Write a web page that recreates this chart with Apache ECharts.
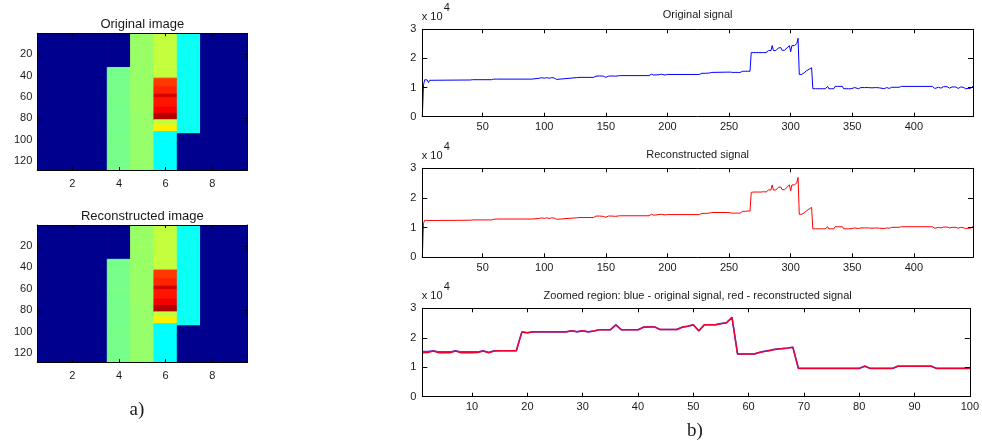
<!DOCTYPE html>
<html>
<head>
<meta charset="utf-8">
<script src="https://cdn.jsdelivr.net/npm/echarts@6/dist/echarts.min.js"></script>
<style>html,body{margin:0;padding:0;background:#fff;}#c{width:982px;height:446px;}</style>
</head>
<body>
<div id="c"></div>
<script>
// ---------------- DATA ----------------
// Image columns 1..9 as run-length segments [rowStart, rowEnd, normalised intensity (jet 0..1)]
const imageRows = 128;
const imageCols = 9;
const originalImage = [
  [[1,128,0]],
  [[1,128,0]],
  [[1,128,0]],
  [[1,32,0],[33,60,0.49],[61,62,0.5],[63,100,0.49],[101,102,0.498],[103,128,0.49]],
  [[1,20,0.525],[21,22,0.532],[23,70,0.525],[71,72,0.532],[73,128,0.522]],
  [[1,42,0.566],[43,50,0.82],[51,57,0.84],[58,60,0.92],[61,69,0.855],[70,75,0.88],[76,81,0.95],[82,86,0.57],[87,92,0.64],[93,128,0.375]],
  [[1,94,0.385],[95,128,0]],
  [[1,128,0]],
  [[1,128,0]]
];
const reconstructedImage = [
  [[1,128,0]],
  [[1,128,0]],
  [[1,128,0]],
  [[1,32,0],[33,60,0.49],[61,62,0.5],[63,100,0.49],[101,102,0.498],[103,128,0.49]],
  [[1,20,0.525],[21,22,0.532],[23,70,0.525],[71,72,0.532],[73,128,0.522]],
  [[1,42,0.566],[43,50,0.82],[51,57,0.84],[58,60,0.925],[61,69,0.855],[70,75,0.885],[76,81,0.95],[82,86,0.57],[87,92,0.64],[93,128,0.375]],
  [[1,94,0.385],[95,128,0]],
  [[1,128,0]],
  [[1,128,0]]
];
const imageXTicks = [2,4,6,8];
const imageYTicks = [20,40,60,80,100,120];

// Zoomed region (samples 1..100 == original samples 250..349)
const zoomOffset = 249;
const zoomOriginal = [
  15300,15300,15600,15200,15200,15200,15600,15200,15200,15200,
  15200,15600,15100,15600,15600,15600,15600,15600,22000,21700,
  22000,22000,22000,22000,22000,22000,22000,22400,22000,22400,
  22000,22300,22700,22700,22700,24400,22700,22700,22700,22700,
  23600,23700,23700,22800,22800,22800,22800,23600,23900,24400,
  22300,24400,24400,24400,24800,25100,26900,14500,14500,14500,
  14500,15100,15500,15800,16200,16300,16500,16800,9600,9600,
  9600,9600,9600,9600,9600,9600,9600,9600,9600,9600,
  10400,9600,9600,9600,9600,9600,10400,10400,10400,10400,
  10400,10400,10400,9600,9600,9600,9600,9600,9600,9600
];
const zoomReconstructed = [
  14900,15000,15500,14900,14900,14900,15500,14900,14900,14900,
  15000,15500,14900,15500,15600,15600,15600,15600,21900,21700,
  22000,22000,22000,22000,22000,22000,22000,22400,22100,22400,
  22000,22300,22700,22700,22700,24400,22700,22700,22700,22700,
  23600,23700,23700,22800,22800,22800,22800,23600,23900,24400,
  22400,24400,24400,24400,24800,25100,26900,14500,14500,14500,
  14500,15000,15400,15700,16100,16300,16500,16800,9600,9600,
  9600,9600,9600,9600,9600,9600,9600,9600,9600,9600,
  10300,9600,9600,9600,9600,9600,10300,10300,10300,10300,
  10300,10300,10300,9600,9600,9600,9600,9600,9600,9600
];
// Full signals outside the zoomed region: [sample, value]
const originalHead = [
  [1,0],[2,11000],[3,12700],[4,12700],[5,12600],[6,11700],[7,12500],[8,12600],[40,12600],[41,13000],[42,12700],
  [57,12700],[58,13100],[59,12900],[60,13100],[61,12900],[90,12900],[91,13300],[96,13200],[98,13400],[100,13200],
  [102,13400],[104,13200],[106,13400],[108,13300],[110,12800],[111,13400],[126,13400],[127,12800],[129,13500],
  [140,13500],[142,13900],[143,13600],[145,14000],[146,13600],[148,13900],[150,13500],[152,13900],[153,13600],
  [155,14000],[156,13700],[158,13900],[159,13600],[161,14100],[185,14100],[187,14600],[189,14300],[193,14400],
  [195,14600],[196,14400],[198,14300],[200,14500],[226,14500],[228,14900],[229,14600],[231,14900],[232,14700],
  [234,15000],[236,15200],[249,15300]
];
const originalTail = [
  [350,9600],[352,10000],[353,9500],[355,9600],[357,10000],[358,9500],[360,10000],[361,9500],[363,10000],[364,9500],
  [366,9900],[367,9500],[369,10000],[370,9600],[372,9900],[373,9500],[376,9600],[378,10000],[380,9700],[382,10100],
  [388,10100],[390,10400],[415,10400],[417,9700],[418,10300],[420,10100],[422,9800],[424,10300],[427,10300],
  [429,9800],[431,10200],[434,10200],[436,9700],[438,10200],[440,10100],[442,9600],[444,9700],[446,9700],[448,10500]
];
const reconstructedHead = [
  [1,0],[2,11500],[3,12500],[4,12500],[5,12400],[6,11900],[7,12400],[8,12500],[40,12500],[41,12900],[42,12600],
  [57,12600],[58,13000],[59,12800],[60,13000],[61,12900],[90,12900],[91,13200],[96,13100],[98,13300],[100,13100],
  [102,13300],[104,13100],[106,13300],[108,13200],[110,12800],[111,13300],[126,13300],[127,12800],[129,13400],
  [140,13400],[142,13900],[143,13500],[145,13900],[146,13500],[148,13800],[150,13500],[152,13900],[153,13500],
  [155,13900],[156,13600],[158,13800],[159,13600],[161,14000],[185,14000],[187,14500],[189,14200],[193,14400],
  [195,14500],[196,14300],[198,14300],[200,14400],[226,14400],[228,14800],[229,14600],[231,14800],[232,14600],
  [234,14900],[236,15100],[249,15100]
];
const reconstructedTail = [
  [350,9600],[352,9900],[353,9600],[355,9700],[357,9900],[358,9600],[360,9900],[361,9600],[363,9900],[364,9600],
  [366,9800],[367,9600],[369,9900],[370,9700],[372,9800],[373,9600],[376,9700],[378,9900],[380,9800],[382,10100],
  [388,10100],[390,10300],[415,10300],[417,9800],[418,10200],[420,10100],[422,9900],[424,10200],[427,10200],
  [429,9900],[431,10100],[434,10100],[436,9800],[438,10100],[440,10000],[442,9700],[444,9800],[446,9800],[448,10400]
];
const signalXTicks = [50,100,150,200,250,300,350,400];
const zoomXTicks = [10,20,30,40,50,60,70,80,90,100];

// ---------------- BUILD ----------------
// each image segment -> [column, rowStart, rowEnd, value]
function imageSegments(cols){
  const out=[];
  cols.forEach((segs,ci)=>{segs.forEach(s=>out.push([ci+1,s[0],s[1],s[2]]));});
  return out;
}
function buildSignal(head, zoom, tail){
  return head.concat(zoom.map((v,i)=>[i+1+zoomOffset,v])).concat(tail);
}
const fullOriginal = buildSignal(originalHead, zoomOriginal, originalTail);
const fullReconstructed = buildSignal(reconstructedHead, zoomReconstructed, reconstructedTail);
const zoomOrigPts = zoomOriginal.map((v,i)=>[i+1,v]);
const zoomRecPts = zoomReconstructed.map((v,i)=>[i+1,v]);

const FONT = 'Liberation Sans, Arial, sans-serif';
const TXT = '#1a1a1a';
const grids = [
  {left:37.3, top:33.3, width:210, height:136.7},
  {left:37.3, top:225, width:210, height:137.3},
  {left:422.3, top:29.3, width:550.7, height:87.4},
  {left:422.3, top:168.3, width:550.7, height:89},
  {left:422.3, top:308.3, width:550.7, height:88.4}
];
const axisLine = {show:true, onZero:false, lineStyle:{color:'#000', width:1}};

const xAxes=[], yAxes=[];
function pairAxes(g, xmin, xmax, xticks, ymin, ymax, yOpt, yInverse, yticks){
  xAxes.push({type:'value', gridIndex:g, min:xmin, max:xmax, position:'bottom', z:10, axisLine,
    axisTick:{show:true, inside:true, length:4, customValues:xticks, lineStyle:{color:'#000'}},
    axisLabel:{customValues:xticks, color:TXT, fontFamily:FONT, fontSize:11, margin:g<2?8:5},
    splitLine:{show:false}});
  xAxes.push({type:'value', gridIndex:g, min:xmin, max:xmax, position:'top', z:10, axisLine,
    axisTick:{show:true, inside:true, length:4, customValues:xticks, lineStyle:{color:'#000'}},
    axisLabel:{show:false}, splitLine:{show:false}});
  const yl = Object.assign({type:'value', gridIndex:g, min:ymin, max:ymax, inverse:yInverse, position:'left', z:10, axisLine,
    axisTick:{show:true, inside:true, length:5, lineStyle:{color:'#000'}},
    axisLabel:{color:TXT, fontFamily:FONT, fontSize:11, margin:6}, splitLine:{show:false}}, yOpt);
  const yr = Object.assign({type:'value', gridIndex:g, min:ymin, max:ymax, inverse:yInverse, position:'right', z:10, axisLine,
    axisTick:{show:true, inside:true, length:5, lineStyle:{color:'#000'}},
    axisLabel:{show:false}, splitLine:{show:false}}, yOpt);
  if (yticks){
    yl.axisTick.customValues = yticks; yl.axisLabel.customValues = yticks;
    yr.axisTick.customValues = yticks;
  }
  yAxes.push(yl); yAxes.push(yr);
}
pairAxes(0, 0.5, imageCols+0.5, imageXTicks, 0.5, imageRows+0.5, {}, true, imageYTicks);
pairAxes(1, 0.5, imageCols+0.5, imageXTicks, 0.5, imageRows+0.5, {}, true, imageYTicks);
const sigY = {interval:10000};
pairAxes(2, 1, 448, signalXTicks, 0, 30000, sigY, false);
pairAxes(3, 1, 448, signalXTicks, 0, 30000, sigY, false);
pairAxes(4, 1, 100, zoomXTicks, 0, 30000, sigY, false);
[4,6,8].forEach(i=>{ yAxes[i].axisLabel.formatter = v=>String(v/10000); });
[0,2].forEach(i=>{ yAxes[i].axisLabel.margin = 5; yAxes[i].axisTick.length = 3; yAxes[i+1].axisTick.length = 3; xAxes[i].axisTick.length=3; xAxes[i+1].axisTick.length=3; });

function renderCell(params, api){
  const c = api.value(0), r0 = api.value(1), r1 = api.value(2);
  const p0 = api.coord([c-0.5, r0-0.5]);
  const p1 = api.coord([c+0.5, r1+0.5]);
  const x = Math.min(p0[0],p1[0]), y = Math.min(p0[1],p1[1]);
  const col = api.visual('color');
  return {type:'rect', shape:{x, y, width:Math.abs(p1[0]-p0[0]), height:Math.abs(p1[1]-p0[1])},
    style:{fill:col, stroke:col, lineWidth:1}};
}

const series = [
  {type:'custom', xAxisIndex:0, yAxisIndex:0, data:imageSegments(originalImage), renderItem:renderCell, encode:{x:0,y:[1,2]}, silent:true, clip:true},
  {type:'custom', xAxisIndex:2, yAxisIndex:2, data:imageSegments(reconstructedImage), renderItem:renderCell, encode:{x:0,y:[1,2]}, silent:true, clip:true},
  {type:'line', xAxisIndex:4, yAxisIndex:4, data:fullOriginal, showSymbol:false, lineStyle:{color:'#0000ff', width:1}, silent:true},
  {type:'line', xAxisIndex:6, yAxisIndex:6, data:fullReconstructed, showSymbol:false, lineStyle:{color:'#ff0000', width:1}, silent:true},
  {type:'line', xAxisIndex:8, yAxisIndex:8, data:zoomOrigPts, showSymbol:false, lineStyle:{color:'#4040ff', width:1.6}, silent:true},
  {type:'line', xAxisIndex:8, yAxisIndex:8, data:zoomRecPts, showSymbol:false, lineStyle:{color:'#f00030', width:1.4}, silent:true}
];

function txt(x,y,text,size,align,family){
  return {type:'text', x, y, z:100, style:{text, fill:TXT, font:size+'px '+(family||FONT), textAlign:align||'center', textVerticalAlign:'middle'}};
}
const graphics = [
  txt(grids[0].left+grids[0].width/2, 24, 'Original image', 13),
  txt(grids[1].left+grids[1].width/2, 216.5, 'Reconstructed image', 13),
  txt(grids[2].left+grids[2].width/2, 15, 'Original signal', 11),
  txt(grids[3].left+grids[3].width/2, 155, 'Reconstructed signal', 11),
  txt(grids[4].left+grids[4].width/2, 295.5, 'Zoomed region: blue - original signal, red - reconstructed signal', 11),
  txt(137, 410, 'a)', 19, 'center', 'Liberation Serif, Times New Roman, serif'),
  txt(695, 431, 'b)', 19, 'center', 'Liberation Serif, Times New Roman, serif')
];
[2,3,4].forEach(g=>{
  graphics.push(txt(grids[g].left-0.5, grids[g].top-12, 'x 10', 11, 'left'));
  graphics.push(txt(grids[g].left+21.5, grids[g].top-21, '4', 11, 'left'));
});

const chart = echarts.init(document.getElementById('c'), null, {renderer:'canvas'});
chart.setOption({
  animation:false,
  backgroundColor:'#fff',
  grid:grids.map(g=>Object.assign({containLabel:false},g)),
  xAxis:xAxes,
  yAxis:yAxes,
  visualMap:{show:false, type:'continuous', min:0, max:1, seriesIndex:[0,1], dimension:3,
    inRange:{color:['#00008f','#0000ff','#0080ff','#00ffff','#80ff80','#ffff00','#ff8000','#ff0000','#800000']}},
  series,
  graphic:graphics
});
</script>
</body>
</html>
